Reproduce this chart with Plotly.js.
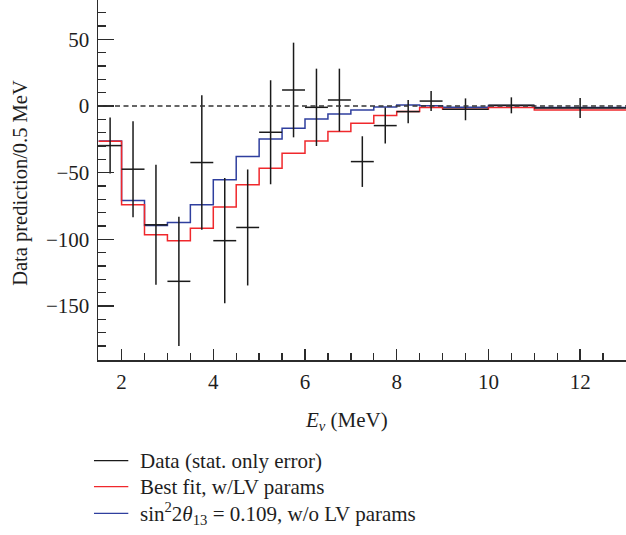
<!DOCTYPE html>
<html>
<head>
<meta charset="utf-8">
<script src="https://cdn.plot.ly/plotly-3.0.1.min.js"></script>
<style>html,body{margin:0;padding:0;background:#fff;}#chart{width:626px;height:535px;}</style>
</head>
<body>
<div id="chart"></div>
<script>
// Bin edges (MeV) shared by data and predictions
const edges = [1.5, 2, 2.5, 3, 3.5, 4, 4.5, 5, 5.5, 6, 6.5, 7, 7.5, 8, 8.5, 9, 10, 11, 13];
// Data minus prediction per 0.5 MeV
const dataVals = [-29.7, -47.4, -89.1, -131.5, -42.4, -101, -91.1, -19.7, 12, -1.0, 4.5, -41.7, -14.7, -4.2, 3.7, -2.5, 0.5, -1.5];
const dataErr = [21, 36, 45, 48.5, 50.5, 47, 43.5, 39, 35.5, 29, 23.5, 19, 13.5, 8.7, 7.5, 8.2, 6, 7.5];
// Best fit with LV params (red)
const bestFitLV = [-26.5, -74.1, -96.6, -101, -91.6, -75.8, -59.1, -46.6, -35.4, -26.2, -19.2, -13.0, -7.2, -4.2, -1.2, -2.5, -1.2, -3.0];
// sin^2 2theta13 = 0.109 without LV params (blue)
const noLV = [-26.2, -70.9, -89.6, -87.4, -74.1, -55.4, -37.9, -24.7, -16.7, -9.7, -6.0, -3.0, -0.8, 0.7, 0.2, -1.0, 0.4, -1.2];

const xTickVals = [2, 4, 6, 8, 10, 12];
const yTickVals = [50, 0, -50, -100, -150];

const names = ["Data (stat. only error)", "Best fit, w/LV params", "sin<sup>2</sup>2<i>θ</i><sub>13</sub> = 0.109, w/o LV params"];
const colors = ['#1a1a1a', '#f0282c', '#2f3f9e'];

const centers = dataVals.map((_, i) => (edges[i] + edges[i + 1]) / 2);
const halfW = dataVals.map((_, i) => (edges[i + 1] - edges[i]) / 2);
const stepY = arr => arr.concat([arr[arr.length - 1]]);

const FONT = "Liberation Serif, Times New Roman, serif";
const AX = '#2b2b2b';
const TXT = '#1e1e1e';

const traces = [
  {type: 'scatter', mode: 'lines', x: edges, y: stepY(noLV), name: names[2],
   line: {color: colors[2], width: 1.5, shape: 'hv'}},
  {type: 'scatter', mode: 'lines', x: edges, y: stepY(bestFitLV), name: names[1],
   line: {color: colors[1], width: 1.5, shape: 'hv'}},
  {type: 'scatter', mode: 'markers', x: centers, y: dataVals, name: names[0],
   marker: {size: 1, color: colors[0], opacity: 0},
   error_y: {type: 'data', array: dataErr, visible: true, color: colors[0], thickness: 1.5, width: 0},
   error_x: {type: 'data', array: halfW, visible: true, color: colors[0], thickness: 1.5, width: 0}}
];

// Legend drawn below the plot (sample line + label per row)
const legRowsY = [-0.2797, -0.3519, -0.4258];
const legShapes = names.map((n, i) => ({type: 'line', xref: 'paper', yref: 'paper',
  x0: -0.0076, x1: 0.0574, y0: legRowsY[i], y1: legRowsY[i], line: {color: colors[i], width: 1.3}}));
const legTexts = names.map((n, i) => ({text: n, xref: 'paper', yref: 'paper', x: 0.076, y: legRowsY[i],
  xanchor: 'left', yanchor: 'middle', showarrow: false, font: {family: FONT, size: 21, color: TXT}}));

const layout = {
  width: 626, height: 535,
  margin: {l: 98, r: 0, t: 0, b: 175},
  paper_bgcolor: '#fff', plot_bgcolor: '#fff',
  font: {family: FONT, size: 21, color: TXT},
  showlegend: false,
  xaxis: {range: [1.486, 13.0], tickvals: xTickVals, ticks: 'inside', ticklen: 11, tickwidth: 1.5, tickcolor: AX,
          showline: true, linecolor: AX, linewidth: 1.5, showgrid: false, zeroline: false,
          ticklabelstandoff: 2, tickfont: {family: FONT, size: 21, color: TXT},
          minor: {dtick: 0.5, tick0: 0, ticks: 'inside', ticklen: 7, tickwidth: 1.3, tickcolor: AX, showgrid: false}},
  yaxis: {range: [-190.5, 79.5], tickvals: yTickVals, ticks: 'inside', ticklen: 16, tickwidth: 1.5, tickcolor: AX,
          showline: true, linecolor: AX, linewidth: 1.5, showgrid: false, zeroline: false,
          ticklabelstandoff: 3, tickfont: {family: FONT, size: 21, color: TXT},
          minor: {dtick: 10, tick0: 0, ticks: 'inside', ticklen: 8, tickwidth: 1.3, tickcolor: AX, showgrid: false}},
  shapes: [{type: 'line', xref: 'paper', x0: 0, x1: 1, yref: 'y', y0: 0, y1: 0, layer: 'above',
            line: {color: '#333', width: 1.5, dash: '5px,3.5px'}}].concat(legShapes),
  annotations: [
    {text: '<i>E</i><sub><i>ν</i></sub> (MeV)', xref: 'paper', yref: 'paper', x: 0.4697, y: -0.17,
     xanchor: 'center', yanchor: 'middle', showarrow: false, font: {family: FONT, size: 21, color: TXT}},
    {text: 'Data prediction/0.5 MeV', xref: 'paper', yref: 'paper', x: -0.146, y: 0.492, textangle: -90,
     xanchor: 'center', yanchor: 'middle', showarrow: false, font: {family: FONT, size: 20.5, color: TXT}}
  ].concat(legTexts)
};

Plotly.newPlot('chart', traces, layout, {displayModeBar: false, staticPlot: true});
</script>
</body>
</html>
